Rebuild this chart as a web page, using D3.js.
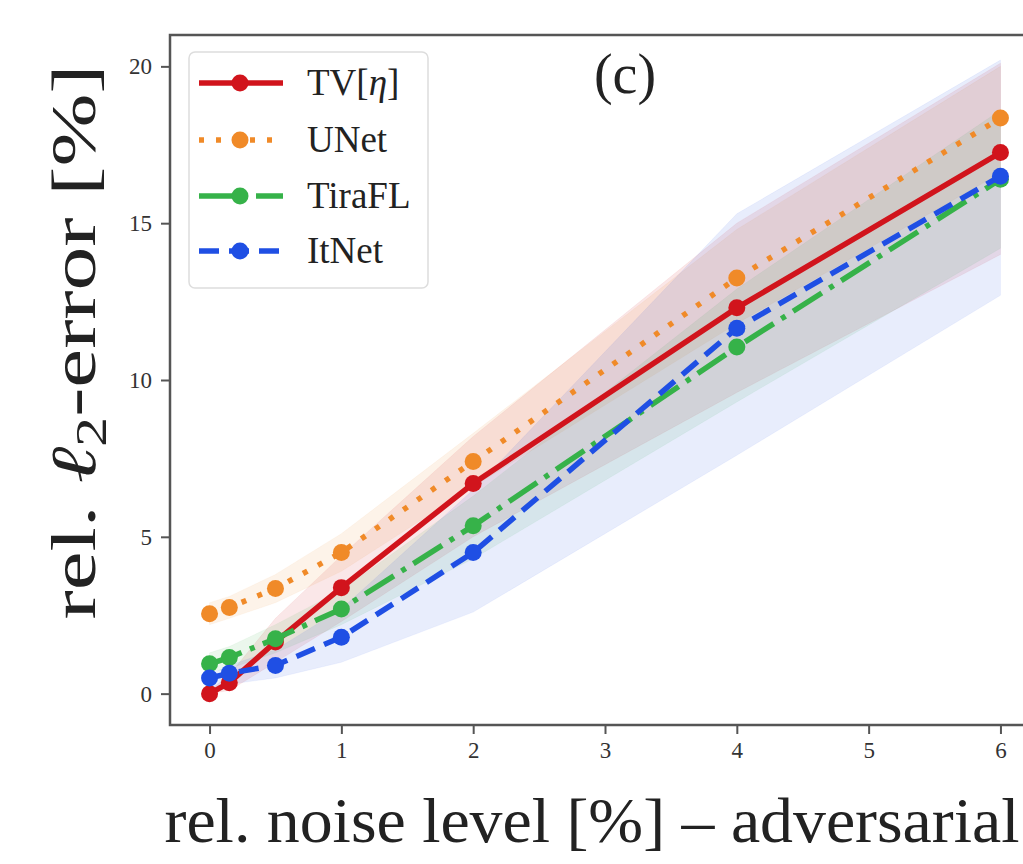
<!DOCTYPE html>
<html>
<head>
<meta charset="utf-8">
<script src="https://cdn.jsdelivr.net/npm/d3@7/dist/d3.min.js"></script>
<style>
  body { margin: 0; background: #fff; }
  svg { display: block; }
  text { font-family: "Liberation Serif", "DejaVu Serif", serif; }
</style>
</head>
<body>
<div class="viz"></div>
<script>
//////////////////////////
// Data
//////////////////////////

// noise levels (x)
const NOISE = [0, 0.15, 0.5, 1, 2, 4, 6];

// mean rel. l2 error per method
const TV_MEAN    = [0.0, 0.35, 1.65, 3.38, 6.7, 12.3, 17.25];
const UNET_MEAN  = [2.55, 2.75, 3.35, 4.5, 7.4, 13.25, 18.35];
const TIRA_MEAN  = [0.95, 1.15, 1.75, 2.7, 5.35, 11.05, 16.4];
const ITNET_MEAN = [0.5, 0.65, 0.9, 1.8, 4.5, 11.65, 16.5];

// spread bands (lower / upper)
const TV_LO    = [0.0, 0.1, 1.0, 2.3, 5.0, 9.6, 14.0];
const TV_HI    = [0.1, 0.6, 2.4, 4.4, 8.2, 15.0, 20.1];
const UNET_LO  = [2.2, 2.4, 2.9, 3.9, 6.6, 11.8, 16.6];
const UNET_HI  = [2.9, 3.1, 3.8, 5.1, 8.3, 14.8, 20.0];
const TIRA_LO  = [0.7, 0.8, 1.3, 2.2, 4.3, 9.3, 14.2];
const TIRA_HI  = [1.3, 1.5, 2.2, 3.3, 6.3, 12.9, 18.6];
const ITNET_LO = [0.2, 0.3, 0.5, 1.0, 2.6, 7.6, 12.7];
const ITNET_HI = [0.6, 0.9, 1.4, 2.7, 6.5, 15.3, 20.2];

const X_TICKS = [0, 1, 2, 3, 4, 5, 6];
const Y_TICKS = [0, 5, 10, 15, 20];

const SERIES = [
    { name: 'TV', mean: TV_MEAN, lo: TV_LO, hi: TV_HI, color: '#d1141c', dash: null },
    { name: 'UNet', mean: UNET_MEAN, lo: UNET_LO, hi: UNET_HI, color: '#f08a28', dash: '5,12' },
    { name: 'TiraFL', mean: TIRA_MEAN, lo: TIRA_LO, hi: TIRA_HI, color: '#36b249', dash: '34,9,5,9' },
    { name: 'ItNet', mean: ITNET_MEAN, lo: ITNET_LO, hi: ITNET_HI, color: '#1f4fe4', dash: '20,10' },
];

//////////////////////////
// D3 Stuff
//////////////////////////

const W = 1023, H = 864;
const plot = { left: 170, right: 1040, top: 35, bottom: 725 };

var svg = d3.select('div.viz')
    .append('svg')
    .attr('width', W)
    .attr('height', H);

var xScale = d3.scaleLinear()
    .domain([-0.3, 6.3])
    .range([plot.left, plot.right]);

var yScale = d3.scaleLinear()
    .domain([-1.0, 21.0])
    .range([plot.bottom, plot.top]);

svg.append('defs').append('clipPath')
    .attr('id', 'clip')
    .append('rect')
    .attr('x', plot.left)
    .attr('y', plot.top)
    .attr('width', plot.right - plot.left)
    .attr('height', plot.bottom - plot.top);

var plotGroup = svg.append('g').attr('clip-path', 'url(#clip)');

// bands
var area = d3.area()
    .x((d) => xScale(d.x))
    .y0((d) => yScale(d.lo))
    .y1((d) => yScale(d.hi));

SERIES.forEach(function(s) {
    var pts = NOISE.map((x, i) => ({ x: x, lo: s.lo[i], hi: s.hi[i] }));
    plotGroup.append('path')
        .datum(pts)
        .attr('d', area)
        .attr('fill', s.color)
        .attr('fill-opacity', 0.1)
        .attr('stroke', s.color)
        .attr('stroke-opacity', 0.05);
});

// lines + markers
var line = d3.line()
    .x((d) => xScale(d.x))
    .y((d) => yScale(d.y));

SERIES.forEach(function(s) {
    var pts = NOISE.map((x, i) => ({ x: x, y: s.mean[i] }));
    var g = plotGroup.append('g').attr('class', 'series');
    g.append('path')
        .datum(pts)
        .attr('d', line)
        .attr('fill', 'none')
        .attr('stroke', s.color)
        .attr('stroke-width', 5.5)
        .attr('stroke-dasharray', s.dash);
    g.selectAll('circle')
        .data(pts)
        .enter()
        .append('circle')
        .attr('cx', (d) => xScale(d.x))
        .attr('cy', (d) => yScale(d.y))
        .attr('r', 8.5)
        .attr('fill', s.color);
});

// axes
var xAxis = svg.append('g')
    .attr('transform', 'translate(0,' + plot.bottom + ')')
    .call(d3.axisBottom(xScale).tickValues(X_TICKS).tickFormat(d3.format('d')).tickSize(9).tickPadding(8));

var yAxis = svg.append('g')
    .attr('transform', 'translate(' + plot.left + ',0)')
    .call(d3.axisLeft(yScale).tickValues(Y_TICKS).tickFormat(d3.format('d')).tickSize(9).tickPadding(9));

[xAxis, yAxis].forEach(function(ax) {
    ax.select('.domain').remove();
    ax.selectAll('line').attr('stroke', '#555').attr('stroke-width', 2);
    ax.selectAll('text')
        .attr('fill', '#333')
        .style('font-size', '23px')
        .style('font-family', '"Liberation Serif", serif');
});

// spines
svg.append('rect')
    .attr('x', plot.left)
    .attr('y', plot.top)
    .attr('width', plot.right - plot.left)
    .attr('height', plot.bottom - plot.top)
    .attr('fill', 'none')
    .attr('stroke', '#555')
    .attr('stroke-width', 2.5);

// panel tag
svg.append('text')
    .attr('x', 625)
    .attr('y', 93)
    .attr('text-anchor', 'middle')
    .style('font-size', '56px')
    .attr('fill', '#222')
    .text('(c)');

// axis labels
svg.append('text')
    .attr('x', 592)
    .attr('y', 842)
    .attr('text-anchor', 'middle')
    .attr('textLength', 855)
    .attr('lengthAdjust', 'spacingAndGlyphs')
    .style('font-size', '64px')
    .attr('fill', '#222')
    .text('rel. noise level [%] – adversarial');

var ylab = svg.append('text')
    .attr('transform', 'translate(95,342) rotate(-90)')
    .attr('text-anchor', 'middle')
    .attr('textLength', 555)
    .attr('lengthAdjust', 'spacingAndGlyphs')
    .style('font-size', '64px')
    .attr('fill', '#222');
ylab.append('tspan').text('rel. ');
ylab.append('tspan').style('font-style', 'italic').text('ℓ');
ylab.append('tspan').attr('baseline-shift', '-25%').style('font-size', '44px').text('2');
ylab.append('tspan').text('-error [%]');

// legend
var legend = svg.append('g').attr('class', 'legend');
legend.append('rect')
    .attr('x', 189)
    .attr('y', 52)
    .attr('width', 239)
    .attr('height', 236)
    .attr('rx', 6)
    .attr('fill', '#fff')
    .attr('fill-opacity', 0.85)
    .attr('stroke', '#ddd')
    .attr('stroke-width', 1.5);

var LEG_Y = [83, 140, 196, 251];
SERIES.forEach(function(s, i) {
    var y = LEG_Y[i];
    legend.append('line')
        .attr('x1', 199).attr('x2', 283)
        .attr('y1', y).attr('y2', y)
        .attr('stroke', s.color)
        .attr('stroke-width', 5.5)
        .attr('stroke-dasharray', s.dash);
    legend.append('circle')
        .attr('cx', 240).attr('cy', y).attr('r', 8.5)
        .attr('fill', s.color);
    var t = legend.append('text')
        .attr('x', 307)
        .attr('y', y + 12)
        .style('font-size', '37px')
        .attr('fill', '#222');
    if (s.name === 'TV') {
        t.append('tspan').text('TV[');
        t.append('tspan').style('font-style', 'italic').text('η');
        t.append('tspan').text(']');
    } else {
        t.text(s.name);
    }
});
</script>
</body>
</html>
